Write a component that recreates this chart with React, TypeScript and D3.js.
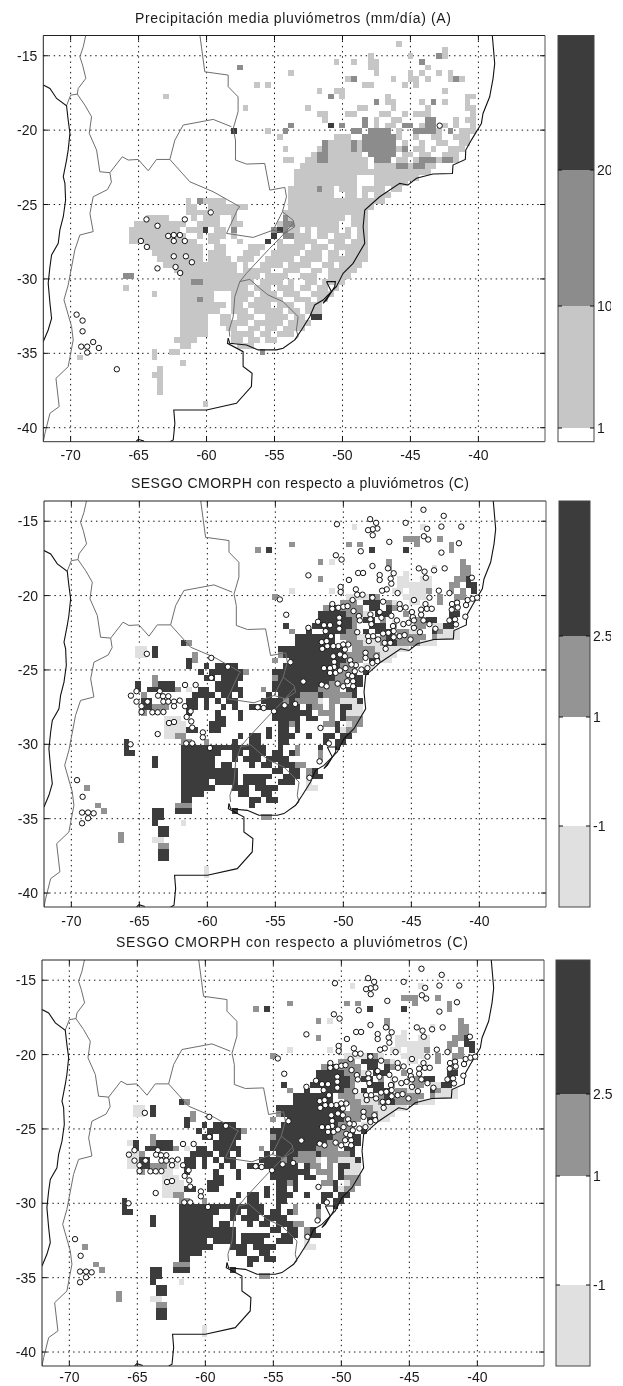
import React from "react";
import * as d3 from "d3";

// ---------- ticks ----------
const lonTicks = [-70, -65, -60, -55, -50, -45, -40];
const latTicks = [-15, -20, -25, -30, -35, -40];
const lonDomain: [number, number] = [-72.01, -35.1];
const latDomain: [number, number] = [-13.64, -40.94];

// grid of the gridded field: index of column/row, degrees per cell
const cellLon0 = -72.01;
const cellLat0 = -13.64;
const cellDLon = 0.419;
const cellDLat = 0.39;

// ---------- colour classes ----------
const classColors: Record<string, string> = { e: "#e0e0e0", a: "#c6c6c6", b: "#929292", d: "#8c8c8c", c: "#3c3c3c" };

// ---------- field of the mean rain panel: [row, "class colStart-colEnd ..."] ----------
const rainRows: [number, string][] = [
  [1, "a62"], [2, "a70"], [3, "a57 a64 d69 a70"], [4, "a51 a54 a57-58 d66"], [5, "d34 a57-58 a67"],
  [6, "a43 a58 a64 a66 a69 a71"], [7, "a53 d54 a61 a64-65 a67 a71 d72 a73"], [8, "a37 a39 a56 a57 a63 a65"],
  [9, "a48 a51-52 a70"], [10, "a21 d50 a52 a60 a74-75"], [11, "d58 a60-61 a66 d68 a70 a74"],
  [12, "a35 a46 a55-56 a61 a67 a74-75"], [13, "a48 a49 a53-54 a59-60 a63 a65-67 a75"],
  [14, "a49 d56 a58 a61-62 d67-68 a72 a74-75"], [15, "d43 c50 d52 d56 a58 a60-61 d63-64 a66 d67-68 a70 a72 a75"],
  [16, "a39 d42 c33 d54-55 d57-60 a62 d65-68 d71 a69 a73-75"],
  [17, "a41 a51-53 d56-61 a62 a65 a68-69 a72-74"],
  [18, "d49 a50-53 d54 a55 d56-61 a63 a66 a69-70 a73-74"],
  [19, "a42 d49 a48 a50-53 d54 a55 d56-61 d63 a62 a65-66 a68 a71-73"],
  [20, "d48-49 a47 a50-55 d57-61 a63-64 a66-67 a70-72"],
  [21, "a42-43 a46-47 d48-49 a50-56 d58-60 a62-63 d66-68 d70-71 a65 a69 a72"],
  [22, "a45-56 a58-59 d62-63 d65-66 a60-61 a64 a67-68"],
  [23, "a44-67"], [24, "a44-54 a58-65"], [25, "a44-54 a58-63"],
  [26, "d48 a43-47 a49-50 a52-54 a56-59 a61-62"], [27, "a43-50 a53-54 a56 a58-60"],
  [28, "a25 d27 a28-31 a43-59"], [29, "a25-26 a29-35 a43-57"], [30, "a25-28 a30-33 a42-56"],
  [31, "a18-21 a26 a28-30 a33 a42-52 d42 a54-56"], [32, "a16-24 a27-30 a33-34 d42-43 a41 a44-51 a54-56"],
  [33, "a15-23 c28 a25-27 a30-31 d33 d40 c41 d42 a43-44 a46 a48-51 a53 a55-56"],
  [34, "a15-24 a27 a29-31 a33 c40 d42-43 a44-46 a48-49 a51-53 a55-56"],
  [35, "a15-26 a29-30 a34 c39 a41 a44-47 a50-52 a54-56"], [36, "a18-27 a30-31 a36-38 a41-45 a47-49 a51-56"],
  [37, "a19-27 a29-31 a35-37 a40-44 a46-48 a50-51 a53-56"], [38, "a20-27 a29-32 a34-36 a39-43 a45-48 a50-56"],
  [39, "a21-27 a28-33 a35 a38-41 a43-46 a49-50 a52-55"], [40, "a23-33 a35-39 a42-44 a47-48 a50-54"],
  [41, "a24-37 d14-15 a39-42 a45-47 a50-53"], [42, "d26-27 a24-25 a28-36 a38-41 a43 a46-47 a49-52"],
  [43, "a14 a24-35 a37-39 a41-43 a45-46 a48-49 a51"], [44, "a19 a24-29 a33-36 a38-40 a42-44 a47-50"],
  [45, "a24-26 d27 a28-29 a33-35 a37-41 a44-46 a48-49"], [46, "a24-31 a33-34 a36-39 a41-43 a46-48"],
  [47, "a24-30 a33-35 a37-41 a43-44 a46-48"], [48, "a24-28 a31-32 a34-36 a39-42 a44-45 c47-48"],
  [49, "a24-28 a31-35 a37-41 a43-46"], [50, "a24-28 a32-33 a36-37 a39-40 a42-45"],
  [51, "a24-28 a33-36 a38-39 a41-43"], [52, "a23-26 a33-34 a36-37 a39-40"], [53, "a24-25 a34-36"],
  [54, "a19 a22-23 d38"], [55, "a6 a19"], [56, "a24"], [57, "a20"], [58, "a19-20"], [59, "a20"], [60, "a20"], [61, "a20"], [63, "a28"],
];

// ---------- field of the bias panels ----------
const biasRows: [number, string][] = [
  [4, "e54 e66"], [6, "b63-65 b69"], [7, "b43 b53 b55 b65 b71"], [8, "b37 c39 c57 c63 b71"],
  [10, "b48 e50 b60 b73"], [11, "b60 e68 b73-74"], [12, "e63 b73-74"], [13, "b48 e62-63 e66-67 b72-73 c74"],
  [14, "e62-67 b71 b72 c74-75"], [15, "e43 e50 e61-62 e64-66 b67 b71 b73 c75"],
  [16, "b40 e53-56 c57 b58 e63-66 b69 b72-73"], [17, "b52-54 c56-58 b60 e61 e64-65 b69 b72"],
  [18, "b49 c50-51 b52-55 c57-58 c60 b61 e62 e66-67 b72"], [19, "c48-52 b53-55 e56 c58-60 b63 c71-72"],
  [20, "c48-53 b54 e55 c56-57 b59 e61 b64-65 b66 c67-68 c71"], [21, "c42 b47 c47-53 b54 c57-59 b61 b65-66 e68-69 c70-71"],
  [22, "b43 c46 c49-52 b53-54 c56 c58-60 b62-63 e64-65 c68 b69 e70-72"],
  [23, "c44-50 b52-54 e55-57 b59 c60 b61-66 b68 e69-72"], [24, "c24 b25 c44-50 b53-55 e56-58 b59 c60-61 b62-65 e66-68"],
  [25, "e17 c19 e16 c41-42 c43-52 b54-57 e58-63"], [26, "e16-17 c19 b26 b41 c42-52 b53-58 e59-61"],
  [27, "c25 b26 c43-52 b53-55 c57-58 e59-60 b40"], [28, "c25 c28 c30-33 c42-51 b52-54 e56-57"],
  [29, "c27 c29-34 b35 b41 c40-50 b51-53 c54 c56"], [30, "c28-29 c31-34 b19 b40 c41-50 b51-53 c54-55"],
  [31, "c16 c20-22 b19 c30-33 c40-49 b50-52 c54-55"], [32, "c16 c18-22 b23 e25 c27-28 c30-34 b38 c40-47 b48-51 c53-54"],
  [33, "b17 c26-29 c31-32 c34 c39 c41-44 b45-47 c48 b49-51 b52-53 c54"],
  [34, "c17-18 c25-26 c28 c30 c32-33 c38-41 b42 c43 b44-47 e48 b50-51 e52-53 e54 c55"],
  [35, "c17-18 b19-21 c25-26 c28 c31 c33 c36-37 c39-42 c43-44 c46 b47-48 b50 c52-53 e54-55"],
  [36, "b17 c25 c30 c34 c40-44 c45-46 b48-50 c52 e53-55"], [37, "e21-23 c30-31 c34 c40-43 c44 c46-47 b50 c52 b53-55"],
  [38, "e21-24 c29-31 c41-42 b43 c44 b49-50 c51 e53 b54-55"], [39, "e21-24 c25-26 c29-30 c39 c41-42 c44 c51 e52 b53-54"],
  [40, "e21-22 b23-24 c34 c36-37 c39 c41-43 c46 c49-50 c52-53"], [41, "c14 b24-25 b28 c33 c36-37 c41-42 c49 c51-52"],
  [42, "c14 c24-34 c35-38 c41 b44 c48 c51"], [43, "c14-15 c24-30 c33-34 c36-38 c40-41 c43 b44 b48"],
  [44, "c19 c24-29 c33 c35-37 c39-42 b48"], [45, "c19 c24-29 c31-32 c36 c38-39 c41-43 b44-45"],
  [46, "c24-33 c40-41 c43-44 b46-47 c47"], [47, "c24-33 c35-39 c42-44 b46 c47-48"],
  [48, "c24-28 c30-33 c35-38 c41-43 e46"], [49, "b7 c24-29 c33-35 c37-38 e46-47 c39-40"], [50, "c24-27 c34-35 c38-39"],
  [51, "c24-25 c36-37 c39-40"], [52, "b9 b23-25 c36"], [53, "b10 c19-20 c23 c24-25 c33"], [54, "c19-20 b38-39"],
  [55, "e24 c19"], [56, "c20-21"], [57, "b13 c20-21"], [58, "b13 e19-20"], [59, "b20-21"], [60, "c20-21"], [61, "c20-21"], [63, "e28"], [64, "e28"],
];

// cells that only the lowest panel shows
const biasLowExtraRows: [number, string][] = [
  [31, "e15"], [33, "e15-16"], [34, "e15-16"], [35, "e15-16 e22-23"], [36, "e20-22"], [16, "e57-59"],
];

// ---------- stations ----------
const rainStationLon = [-64.42, -63.61, -61.6, -59.69, -62.82, -62.41, -61.96, -62.41, -61.6, -64.83, -64.39, -62.41, -61.52, -61.08, -63.61, -62.28, -61.94, -69.56, -69.12, -69.12, -69.22, -68.78, -68.34, -67.92, -68.78, -66.6, -42.85];
const rainStationLat = [-26.0, -26.43, -26.0, -25.53, -27.11, -27.05, -27.05, -27.45, -27.45, -27.45, -27.85, -28.48, -28.48, -28.88, -29.29, -29.2, -29.6, -32.4, -32.8, -33.52, -34.55, -34.55, -34.24, -34.64, -34.95, -36.07, -19.7];

const biasStations: [number, number][] = [
  [-44.11, -14.23], [-42.62, -14.64], [-42.79, -15.36], [-41.33, -15.36], [-45.42, -15.11], [-43.84, -15.51], [-44.08, -16.01], [-43.76, -16.23], [-41.5, -16.48], [-46.62, -16.39],
  [-48.03, -14.86], [-47.59, -15.11], [-47.5, -15.49], [-47.84, -15.54], [-48.18, -15.6], [-47.84, -15.94], [-50.47, -15.2], [-48.72, -17.02], [-42.79, -17.11], [-50.55, -17.29],
  [-50.13, -17.58], [-47.86, -18.01], [-46.72, -18.17], [-46.3, -18.5], [-44.45, -18.17], [-44.03, -18.39], [-43.33, -18.3], [-42.55, -18.17], [-43.94, -18.8], [-48.91, -18.48],
  [-48.55, -18.48], [-47.33, -18.62], [-47.33, -18.95], [-46.52, -18.86], [-46.47, -19.2], [-52.57, -18.64], [-49.59, -18.95], [-40.55, -18.8], [-50.2, -19.42], [-50.2, -19.76],
  [-49.08, -19.58], [-46.81, -19.58], [-47.15, -19.67], [-46.01, -19.83], [-42.98, -19.67], [-42.2, -19.83], [-54.67, -20.26], [-48.98, -19.94], [-48.59, -19.94], [-49.32, -20.3],
  [-47.86, -20.14], [-47.08, -20.41], [-43.67, -20.14], [-44.81, -20.3], [-43.96, -20.57], [-54.2, -21.29], [-50.81, -20.57], [-50.81, -20.89], [-50.37, -20.82], [-50.0, -20.75],
  [-49.69, -20.71], [-49.25, -21.04], [-48.86, -21.38], [-48.79, -21.67], [-50.3, -21.49], [-50.3, -21.83], [-50.3, -22.23], [-51.86, -21.76], [-51.42, -21.99], [-50.98, -21.99],
  [-51.3, -22.39], [-52.57, -22.17], [-48.98, -22.46], [-45.86, -20.57], [-45.84, -20.89], [-45.42, -20.8], [-44.28, -20.95], [-43.86, -20.89], [-43.5, -20.89], [-42.01, -20.57],
  [-41.64, -20.48], [-40.86, -20.3], [-40.5, -20.21], [-40.16, -20.14], [-40.98, -20.64], [-41.59, -20.8], [-42.03, -20.95], [-44.96, -21.11], [-44.89, -21.45], [-44.28, -21.29],
  [-44.11, -21.67], [-43.67, -21.92], [-43.23, -22.23], [-42.2, -21.67], [-41.79, -21.6], [-41.72, -21.94], [-41.03, -21.42], [-48.01, -21.27], [-48.01, -21.6], [-47.94, -21.92],
  [-47.33, -21.11], [-47.2, -21.49], [-46.47, -21.36], [-46.06, -21.67], [-45.59, -21.92], [-45.2, -21.83], [-44.81, -21.67], [-44.81, -22.17], [-44.37, -22.46], [-46.35, -22.05],
  [-46.3, -22.39], [-46.69, -22.5], [-47.08, -22.55], [-48.18, -22.73], [-47.81, -22.73], [-48.13, -23.06], [-47.45, -22.95], [-46.96, -23.18], [-46.55, -23.18], [-46.3, -22.8],
  [-45.86, -22.73], [-45.5, -22.66], [-45.06, -22.95], [-46.89, -23.58], [-48.37, -23.85], [-48.37, -24.19], [-47.57, -24.08], [-47.86, -24.53], [-47.5, -24.41], [-48.23, -24.88],
  [-48.67, -24.97], [-49.08, -24.68], [-49.16, -25.09], [-49.5, -24.35], [-49.89, -24.08], [-49.89, -23.63], [-49.64, -23.29], [-50.01, -23.29], [-50.37, -23.4], [-50.74, -23.4],
  [-51.18, -23.4], [-51.59, -23.13], [-51.23, -23.06], [-50.91, -22.73], [-51.55, -23.58], [-50.74, -24.08], [-50.25, -23.96], [-50.67, -24.46], [-50.67, -24.8], [-51.42, -24.88],
  [-50.98, -24.88], [-50.98, -25.2], [-50.57, -25.2], [-50.25, -25.04], [-49.84, -24.88], [-49.4, -24.64], [-49.64, -25.33], [-49.35, -25.42], [-49.72, -25.76], [-49.28, -25.76],
  [-50.01, -26.1], [-49.28, -26.1], [-50.42, -25.92], [-51.59, -25.99], [-51.23, -26.1], [-52.94, -25.78], [-53.89, -24.48],
  [-64.45, -23.92], [-59.71, -24.19], [-58.49, -24.79], [-59.71, -25.53], [-61.64, -26.01], [-60.86, -26.01], [-63.5, -26.43], [-63.62, -26.73], [-63.26, -26.77], [-62.87, -26.77],
  [-63.23, -27.13], [-62.87, -27.13], [-62.45, -27.13], [-62.03, -27.06], [-62.45, -27.44], [-65.21, -26.43], [-65.62, -26.73], [-64.4, -27.13], [-65.21, -27.13], [-64.84, -27.44],
  [-64.84, -27.83], [-64.04, -27.85], [-63.65, -27.85], [-63.23, -27.83], [-61.64, -27.44], [-61.23, -27.78], [-61.52, -28.16], [-61.18, -28.46], [-61.11, -28.88], [-62.82, -28.57],
  [-62.45, -28.5], [-63.65, -29.31], [-60.33, -29.2], [-60.33, -29.53], [-61.55, -29.94], [-61.11, -29.94], [-65.65, -30.0], [-59.81, -30.25], [-56.3, -27.51], [-55.86, -27.56],
  [-55.1, -27.78], [-54.32, -27.38], [-53.54, -27.29], [-51.68, -28.9], [-51.07, -29.94], [-51.75, -31.15], [-52.49, -32.25], [-69.58, -32.41], [-69.17, -33.53], [-69.21, -34.59],
  [-68.77, -34.59], [-68.36, -34.64], [-68.77, -34.97], [-69.21, -35.31],
];

// ---------- map lines, lon/lat ----------
const coastLines: [number, number][][] = [
  [[-72.01, -16.97], [-71.52, -17.2], [-71.03, -17.87], [-70.3, -18.36], [-70.18, -19.32], [-70.05, -20.22], [-70.18, -21.34], [-70.3, -22.01], [-70.54, -23.13], [-70.42, -23.58], [-70.37, -24.7], [-70.54, -25.82], [-70.79, -26.71], [-70.91, -27.61], [-71.4, -28.39], [-71.52, -29.17], [-71.65, -30.29], [-71.52, -31.64], [-71.4, -32.65], [-71.65, -33.43], [-72.01, -34.21]],
  [[-38.98, -13.61], [-38.8, -15.52], [-38.92, -16.52], [-39.17, -17.76], [-39.66, -18.88], [-39.78, -19.55], [-40.52, -20.67], [-40.93, -21.34], [-40.96, -21.97], [-41.87, -22.35], [-41.91, -22.91], [-43.34, -22.95], [-44.56, -23.24], [-45.17, -23.69], [-45.79, -23.58], [-47.26, -24.48], [-48.36, -25.37], [-48.48, -26.49], [-48.36, -27.61], [-49.22, -28.95], [-49.95, -29.62], [-50.45, -30.52], [-51.43, -31.42], [-52.04, -31.75], [-52.41, -32.54], [-53.02, -33.43], [-53.51, -34.1], [-54.37, -34.66], [-54.86, -34.77], [-56.2, -34.77], [-57.06, -34.44], [-58.29, -34.33], [-58.41, -33.99]],
  [[-58.41, -33.99], [-58.46, -34.33], [-57.31, -34.89], [-57.31, -35.89], [-56.65, -36.34], [-56.7, -37.24], [-57.8, -38.36], [-60.0, -38.81], [-62.41, -38.81], [-62.33, -39.7], [-62.45, -40.82], [-62.7, -40.94]],
  [[-65.2, -40.94], [-65.03, -40.78], [-64.6, -40.9]],
  [[-51.18, -30.18], [-50.52, -30.18], [-50.57, -30.52], [-51.18, -31.42], [-51.43, -31.64], [-50.81, -30.86], [-51.18, -30.18]],
];
const borderLines: [number, number][][] = [
  [[-68.88, -13.6], [-69.07, -14.4], [-69.32, -15.07], [-69.12, -15.63], [-68.88, -16.52], [-69.44, -17.2], [-69.51, -17.58], [-70.0, -17.65], [-70.3, -18.36]],
  [[-69.51, -17.58], [-68.95, -18.32], [-68.46, -19.1], [-68.63, -20.22], [-68.09, -21.34], [-67.85, -22.8], [-67.11, -22.86], [-67.0, -23.5], [-67.3, -24.0], [-68.34, -24.48], [-68.58, -25.6], [-68.34, -26.82], [-69.32, -27.05], [-69.69, -28.05], [-70.18, -30.41], [-70.49, -31.41], [-69.93, -33.2], [-69.81, -34.1], [-70.18, -35.9], [-71.08, -36.68], [-70.84, -38.58], [-71.52, -39.03], [-71.89, -40.38], [-72.01, -40.94]],
  [[-67.11, -22.86], [-66.2, -21.79], [-65.76, -22.01], [-65.03, -21.97], [-64.29, -22.73], [-63.68, -21.97], [-62.7, -21.97], [-62.33, -20.67], [-61.72, -19.66], [-59.51, -19.28], [-58.17, -19.77]],
  [[-60.49, -13.61], [-60.13, -16.08], [-58.41, -16.3], [-58.41, -17.08], [-57.68, -17.76], [-57.68, -18.76], [-58.04, -19.9], [-57.87, -20.67], [-57.87, -22.01], [-57.06, -22.28], [-55.72, -22.24], [-55.35, -24.03], [-54.24, -23.85], [-54.12, -24.48], [-54.42, -25.49], [-55.1, -26.72], [-56.57, -27.21], [-58.53, -26.94], [-57.68, -25.26]],
  [[-62.7, -21.97], [-61.23, -23.47], [-59.51, -24.14], [-57.55, -25.15], [-57.68, -25.26]],
  [[-54.42, -25.49], [-53.63, -26.05], [-53.51, -26.49], [-54.24, -26.94], [-55.1, -26.72]],
  [[-53.63, -26.26], [-54.61, -27.27], [-55.35, -27.94], [-57.06, -29.62], [-57.55, -30.18]],
  [[-57.55, -30.18], [-56.82, -30.03], [-56.08, -30.63], [-55.47, -31.08], [-54.37, -31.53], [-53.26, -32.54], [-53.39, -33.43], [-53.26, -33.88], [-53.51, -34.1]],
  [[-57.55, -30.18], [-57.92, -31.19], [-58.04, -32.54], [-58.34, -33.43], [-58.29, -33.88]],
];

// ---------- colour bars: value boundaries, labels ----------
const rainBarLevels = [1, 10, 20];
const rainBarLabels = ["1", "10", "20"];
const biasBarLevels = [-1, 1, 2.5];
const biasBarLabels = ["-1", "1", "2.5"];

type Panel = {
  left: number; right: number; top: number; bottom: number; title: string; titleX: number; titleW: number; titleY: number;
  rows: [number, string][]; stations: [number, number][]; barL: number; barR: number; barColors: string[];
  barDomain: number[]; barPix: number[]; barLevels: number[]; barLabels: string[]; labelX: number; clipX: number; xLabY: number;
};

const rainStations = rainStationLon.map((lon, i) => [lon, rainStationLat[i]] as [number, number]);

const panels: Panel[] = [
  { left: 43.3, right: 545, top: 35.5, bottom: 441.7, title: "Precipitación media pluviómetros (mm/día) (A)", titleX: 135, titleW: 316, titleY: 23,
    rows: rainRows, stations: rainStations, barL: 558, barR: 594, barColors: ["#ffffff", "#c6c6c6", "#8c8c8c", "#3c3c3c"],
    barDomain: [1, 10, 20], barPix: [428, 306, 170], barLevels: rainBarLevels, barLabels: rainBarLabels, labelX: 597, clipX: 611, xLabY: 460 },
  { left: 44, right: 546, top: 501, bottom: 907, title: "SESGO CMORPH con respecto a pluviómetros (C)", titleX: 131, titleW: 338, titleY: 488,
    rows: biasRows, stations: biasStations, barL: 559, barR: 590, barColors: ["#e0e0e0", "#ffffff", "#949494", "#3c3c3c"],
    barDomain: [-1, 1, 2.5], barPix: [826, 717, 636], barLevels: biasBarLevels, barLabels: biasBarLabels, labelX: 593, clipX: 611, xLabY: 926 },
  { left: 42, right: 544, top: 960, bottom: 1366, title: "SESGO CMORPH con respecto a pluviómetros (C)", titleX: 116, titleW: 352, titleY: 947,
    rows: [...biasLowExtraRows, ...biasRows], stations: biasStations, barL: 556, barR: 590, barColors: ["#e0e0e0", "#ffffff", "#949494", "#3c3c3c"],
    barDomain: [-1, 1, 2.5], barPix: [1285, 1176, 1094], barLevels: biasBarLevels, barLabels: biasBarLabels, labelX: 593, clipX: 623, xLabY: 1382 },
];

function parseRuns(rows: [number, string][]) {
  const out: { c0: number; c1: number; r: number; k: string }[] = [];
  rows.forEach(([r, s]) => {
    s.split(" ").forEach((tok) => {
      const k = tok[0];
      const [a, b] = tok.slice(1).split("-").map(Number);
      out.push({ c0: a, c1: b === undefined ? a : b, r, k });
    });
  });
  return out;
}

const FONT = "'Liberation Sans', Arial, sans-serif";

function MapPanel({ p, idx }: { p: Panel; idx: number }) {
  const x = d3.scaleLinear().domain(lonDomain).range([p.left, p.right]);
  const y = d3.scaleLinear().domain(latDomain).range([p.top, p.bottom]);
  const line = d3.line<[number, number]>().x((d) => x(d[0])).y((d) => y(d[1]));
  const runs = parseRuns(p.rows);
  const barY = d3.scaleLinear().domain(p.barDomain).range(p.barPix);
  const edges = [p.bottom, ...p.barDomain.map((v) => barY(v)), p.top];
  const clipId = `plot${idx}`;
  const labelClip = `lab${idx}`;
  return (
    <g>
      <defs>
        <clipPath id={clipId}><rect x={p.left} y={p.top} width={p.right - p.left} height={p.bottom - p.top} /></clipPath>
        <clipPath id={labelClip}><rect x={p.barR} y={p.top - 10} width={p.clipX - p.barR} height={p.bottom - p.top + 20} /></clipPath>
      </defs>
      <text x={p.titleX} y={p.titleY} fontSize={14} fontFamily={FONT} fill="#1a1a1a" textLength={p.titleW} lengthAdjust="spacing">{p.title}</text>
      <g clipPath={`url(#${clipId})`}>
        {lonTicks.map((t) => (
          <line key={t} x1={x(t)} x2={x(t)} y1={p.top} y2={p.bottom} stroke="#111" strokeDasharray="1.4 3.8" strokeWidth={1} />
        ))}
        {latTicks.map((t) => (
          <line key={t} x1={p.left} x2={p.right} y1={y(t)} y2={y(t)} stroke="#111" strokeDasharray="1.4 3.8" strokeWidth={1} />
        ))}
        <g shapeRendering="crispEdges">
          {runs.map((d, i) => (
            <rect key={i} x={x(cellLon0 + d.c0 * cellDLon)} y={y(cellLat0 - d.r * cellDLat)}
              width={x(cellLon0 + (d.c1 + 1) * cellDLon) - x(cellLon0 + d.c0 * cellDLon)}
              height={y(cellLat0 - (d.r + 1) * cellDLat) - y(cellLat0 - d.r * cellDLat)}
              fill={classColors[d.k]} />
          ))}
        </g>
        {borderLines.map((l, i) => (
          <path key={i} d={line(l) || ""} fill="none" stroke="#6e6e6e" strokeWidth={1} />
        ))}
        {coastLines.map((l, i) => (
          <path key={i} d={line(l) || ""} fill="none" stroke="#111" strokeWidth={1.1} />
        ))}
      </g>
      {p.stations.map((s, i) => (
        <circle key={i} cx={x(s[0])} cy={y(s[1])} r={2.7} fill="#fff" stroke="#111" strokeWidth={1} />
      ))}
      {/* axes frame and ticks */}
      <line x1={p.left} x2={p.right} y1={p.top} y2={p.top} stroke="#222" />
      <line x1={p.left} x2={p.right} y1={p.bottom} y2={p.bottom} stroke="#333" />
      <line x1={p.left} x2={p.left} y1={p.top} y2={p.bottom} stroke="#222" />
      <line x1={p.right} x2={p.right} y1={p.top} y2={p.bottom} stroke="#555" />
      {lonTicks.map((t) => (
        <g key={t}>
          <line x1={x(t)} x2={x(t)} y1={p.top} y2={p.top + 5} stroke="#111" />
          <line x1={x(t)} x2={x(t)} y1={p.bottom} y2={p.bottom - 5} stroke="#111" />
          <text x={x(t)} y={p.xLabY} textAnchor="middle" fontSize={14} fontFamily={FONT} fill="#1a1a1a">{t}</text>
        </g>
      ))}
      {latTicks.map((t) => (
        <g key={t}>
          <line x1={p.left} x2={p.left + 5} y1={y(t)} y2={y(t)} stroke="#111" />
          <line x1={p.right} x2={p.right - 5} y1={y(t)} y2={y(t)} stroke="#111" />
          <text x={p.left - 6} y={y(t) + 5} textAnchor="end" fontSize={14} fontFamily={FONT} fill="#1a1a1a">{t}</text>
        </g>
      ))}
      {/* colour bar */}
      {p.barColors.map((col, i) => (
        <rect key={i} x={p.barL} y={edges[i + 1]} width={p.barR - p.barL} height={edges[i] - edges[i + 1]} fill={col} />
      ))}
      <rect x={p.barL} y={p.top} width={p.barR - p.barL} height={p.bottom - p.top} fill="none" stroke="#444" />
      {p.barLevels.map((v, i) => (
        <g key={v}>
          <line x1={p.barL} x2={p.barL + 4} y1={barY(v)} y2={barY(v)} stroke="#111" />
          <line x1={p.barR} x2={p.barR - 4} y1={barY(v)} y2={barY(v)} stroke="#111" />
          <g clipPath={`url(#${labelClip})`}>
            <text x={p.labelX} y={barY(v) + 5} fontSize={14} fontFamily={FONT} fill="#1a1a1a">{p.barLabels[i]}</text>
          </g>
        </g>
      ))}
    </g>
  );
}

export default function App() {
  return (
    <svg width={623} height={1386} viewBox="0 0 623 1386"
      style={{ position: "absolute", left: 0, top: 0, background: "#fff", filter: "blur(0.35px)" }}>
      {panels.map((p, i) => <MapPanel key={i} p={p} idx={i} />)}
    </svg>
  );
}
